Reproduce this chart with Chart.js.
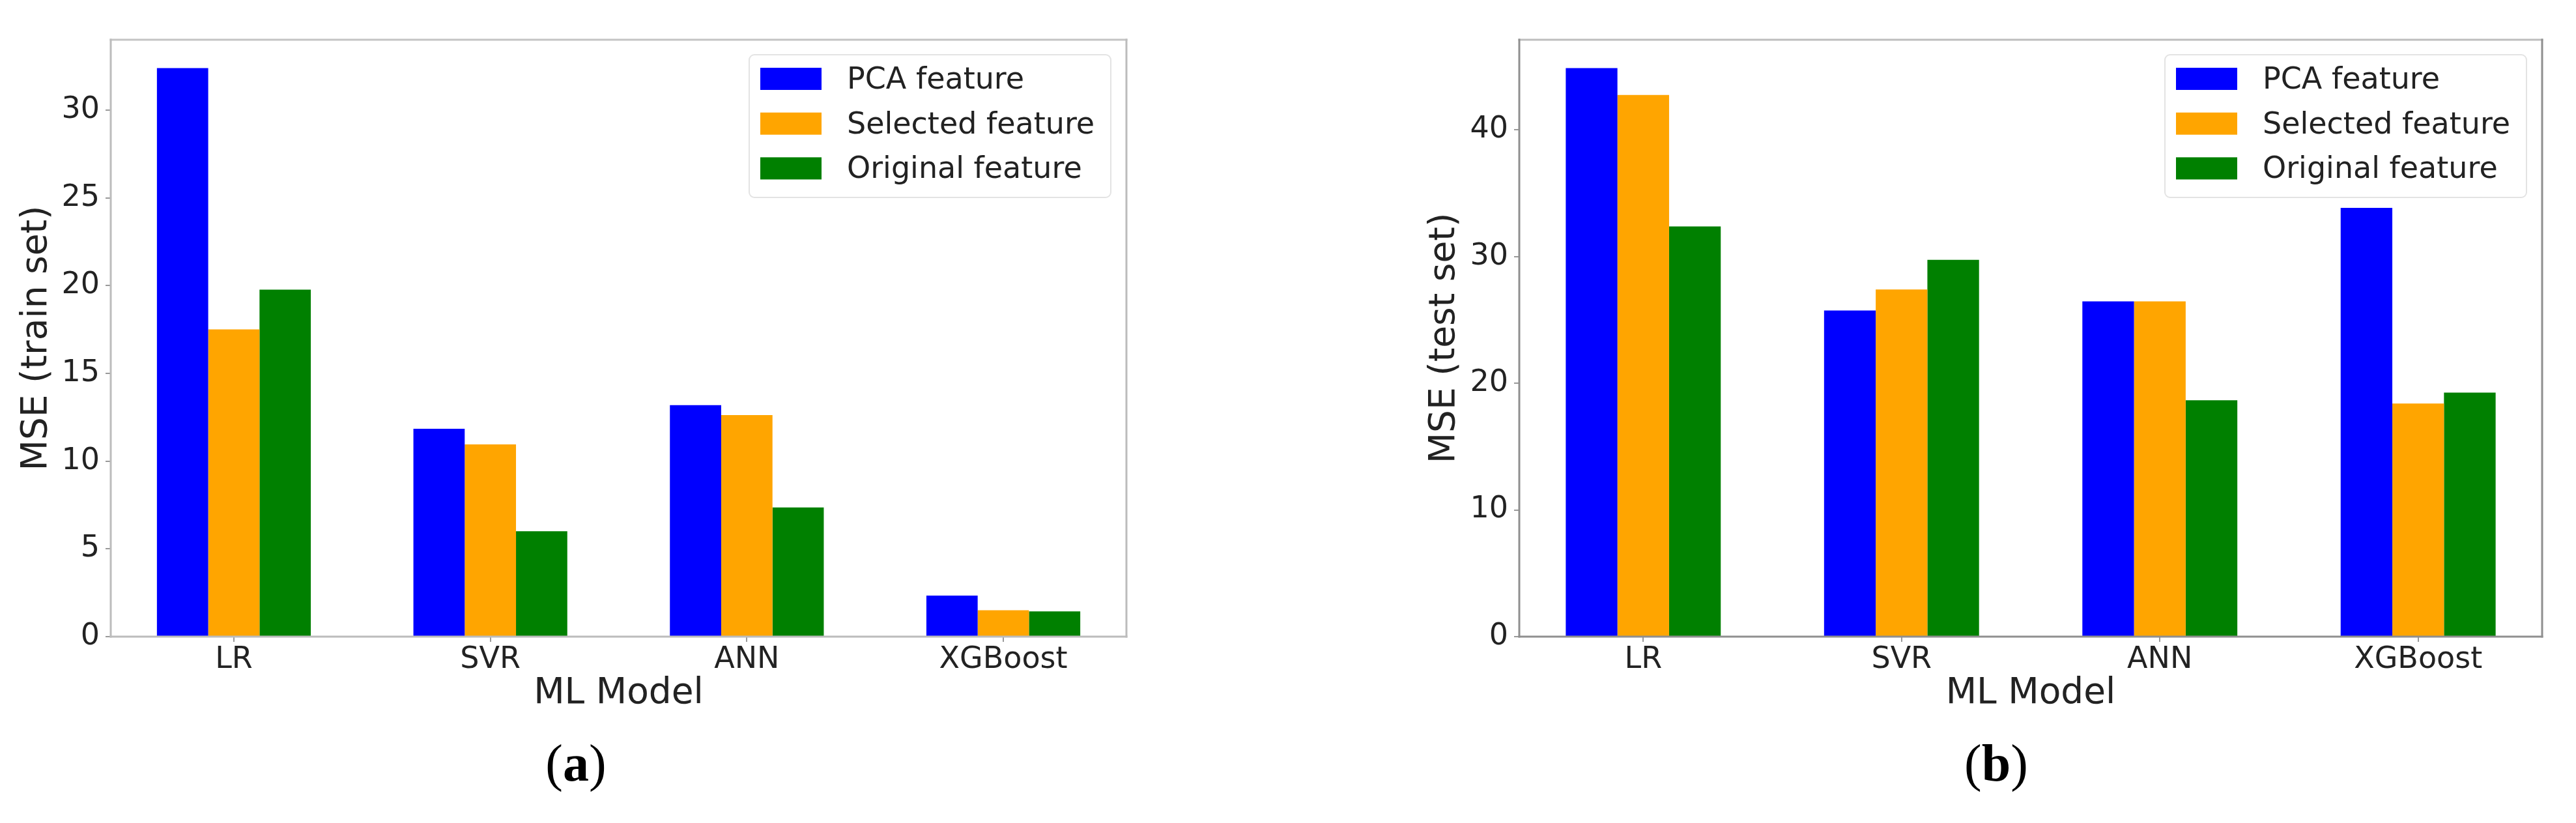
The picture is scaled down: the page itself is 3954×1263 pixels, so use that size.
<!DOCTYPE html>
<html>
<head>
<meta charset="utf-8">
<script src="https://cdn.jsdelivr.net/npm/chart.js@4.4.1/dist/chart.umd.min.js"></script>
<style>
  html, body { margin: 0; padding: 0; background: #fff; }
  #page { position: relative; width: 3954px; height: 1263px; overflow: hidden; background: #fff; }
  .panel { position: absolute; top: 0; }
  .caption { position: absolute; width: 400px; text-align: center; font-family: 'Liberation Serif', serif; font-size: 80px; line-height: 1; color: #000; }
</style>
</head>
<body>
<div id="page">
  <div class="panel" style="left:0px;width:1790px;height:1110px"><canvas id="chart_train" width="1790" height="1110"></canvas></div>
  <div class="panel" style="left:2150px;width:1804px;height:1110px"><canvas id="chart_test" width="1804" height="1110"></canvas></div>
  <div class="caption" style="left:684px;top:1131px">(<b>a</b>)</div>
  <div class="caption" style="left:2864px;top:1131px">(<b>b</b>)</div>
</div>
<script>
const models = ['LR', 'SVR', 'ANN', 'XGBoost']
const series_names = ['PCA feature', 'Selected feature', 'Original feature']
const series_colors = ['#0000ff', '#ffa500', '#008000']

// (a) MSE on the train set
const train_pca = [32.39, 11.84, 13.19, 2.34]
const train_selected = [17.51, 10.95, 12.62, 1.50]
const train_original = [19.77, 6.01, 7.36, 1.44]
const train_y_ticks = [0, 5, 10, 15, 20, 25, 30]

// (b) MSE on the test set
const test_pca = [44.86, 25.74, 26.46, 33.84]
const test_selected = [42.74, 27.40, 26.46, 18.40]
const test_original = [32.37, 29.74, 18.65, 19.26]
const test_y_ticks = [0, 10, 20, 30, 40]

Chart.defaults.font.family = '"DejaVu Sans"'

// matplotlib style box round the plot
const frame_plugin = {
    id: 'frame',
    afterDatasetsDraw(chart, args, opts) {
        const {ctx, chartArea: a} = chart
        const c = opts.colors
        ctx.save()
        ctx.lineWidth = 3
        ctx.lineCap = 'square'
        const side = (color, x1, y1, x2, y2) => {
            ctx.strokeStyle = color
            ctx.beginPath()
            ctx.moveTo(x1, y1)
            ctx.lineTo(x2, y2)
            ctx.stroke()
        }
        side(c.top, a.left, a.top, a.right, a.top)
        side(c.right, a.right, a.top, a.right, a.bottom)
        side(c.bottom, a.left, a.bottom, a.right, a.bottom)
        side(c.left, a.left, a.top, a.left, a.bottom)
        ctx.restore()
    }
}

// legend in the upper right corner, inside the plot
const legend_plugin = {
    id: 'box_legend',
    afterDraw(chart) {
        const {ctx, chartArea: a} = chart
        const w = 555, h = 219
        const x0 = a.right - 24 - w, y0 = a.top + 23
        ctx.save()
        ctx.fillStyle = 'rgba(255,255,255,0.8)'
        ctx.strokeStyle = '#e3e3e3'
        ctx.lineWidth = 2
        ctx.beginPath()
        ctx.roundRect(x0, y0, w, h, 8)
        ctx.fill()
        ctx.stroke()
        ctx.font = '46px "DejaVu Sans"'
        ctx.textBaseline = 'middle'
        chart.data.datasets.forEach((ds, i) => {
            const cy = y0 + 37 + i * 68.7
            ctx.fillStyle = ds.backgroundColor
            ctx.fillRect(x0 + 17, cy - 17, 94, 34)
            ctx.fillStyle = '#222'
            ctx.fillText(ds.label, x0 + 150, cy + 3)
        })
        ctx.restore()
    }
}

function make_graphic(id, y_title, values, y_ticks, pad_left, axis_width, pad_right, frame_colors){
    const y_max = Math.max(...[].concat(...values)) * 1.05
    const datasets = series_names.map((name, k) => ({
        label: name,
        data: values[k].map((v, i) => ({x: i, y: v})),
        backgroundColor: series_colors[k],
        borderWidth: 0,
        barPercentage: 1,
        categoryPercentage: 0.6,
    }))
    const tick_grid = {
        drawOnChartArea: false,
        drawTicks: true,
        tickLength: 8,
        color: '#999',
        lineWidth: 2,
        offset: false,
    }
    return new Chart(document.getElementById(id), {
        type: 'bar',
        data: { datasets: datasets },
        plugins: [frame_plugin, legend_plugin],
        options: {
            responsive: false,
            devicePixelRatio: 1,
            animation: false,
            layout: {
                padding: { top: 61, left: pad_left, right: pad_right, bottom: 12 }
            },
            scales: {
                x: {
                    type: 'linear',
                    offset: false,
                    min: -0.48,
                    max: 3.48,
                    afterBuildTicks: s => { s.ticks = models.map((m, i) => ({value: i})) },
                    afterFit: s => { s.height = 121 },
                    border: { display: false },
                    grid: tick_grid,
                    ticks: {
                        padding: 0,
                        color: '#222',
                        font: { size: 46 },
                        maxRotation: 0,
                        autoSkip: false,
                        callback: v => models[v],
                    },
                    title: {
                        display: true,
                        text: 'ML Model',
                        color: '#222',
                        font: { size: 55 },
                        padding: 0,
                    },
                },
                y: {
                    min: 0,
                    max: y_max,
                    afterBuildTicks: s => { s.ticks = y_ticks.map(v => ({value: v})) },
                    afterFit: s => { s.width = axis_width },
                    border: { display: false },
                    grid: tick_grid,
                    ticks: {
                        padding: 9,
                        color: '#222',
                        font: { size: 46 },
                        callback: v => String(v),
                    },
                    title: {
                        display: true,
                        text: y_title,
                        color: '#222',
                        font: { size: 55 },
                        padding: 0,
                    },
                },
            },
            plugins: {
                legend: { display: false },
                tooltip: { enabled: false },
                frame: { colors: frame_colors },
            }
        }
    })
}

make_graphic('chart_train', 'MSE (train set)',
    [train_pca, train_selected, train_original], train_y_ticks,
    24, 146, 61,
    {top: '#c4c4c4', right: '#bcbcbc', bottom: '#bcbcbc', left: '#bcbcbc'})

make_graphic('chart_test', 'MSE (test set)',
    [test_pca, test_selected, test_original], test_y_ticks,
    35, 147, 52,
    {top: '#bdbdbd', right: '#8f8f8f', bottom: '#8f8f8f', left: '#8f8f8f'})
</script>
</body>
</html>
